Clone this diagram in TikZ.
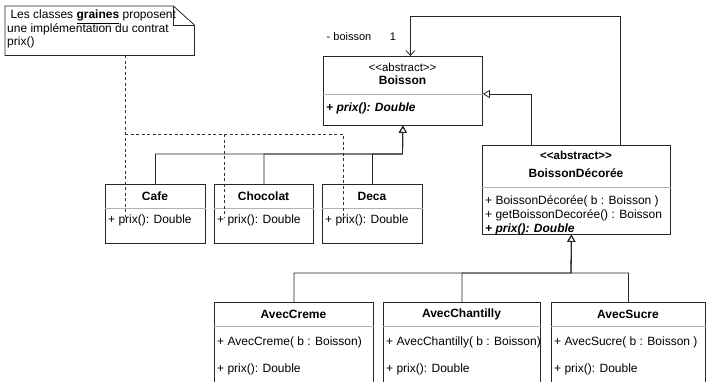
\documentclass[tikz,border=0pt]{standalone}
\usepackage{fontspec}
\setmainfont{Liberation Sans}
\usetikzlibrary{arrows.meta}
\begin{document}
\begin{tikzpicture}[x=1pt,y=-1pt,
  umlbox/.style={draw=black!85, line width=0.8pt, fill=white, inner sep=0pt, anchor=north west},
  divider/.style={draw=black!30, line width=0.8pt},
  txt/.style={inner sep=0pt, font=\fontsize{12}{14}\selectfont},
  ttl/.style={inner sep=0pt, font=\fontsize{12}{14}\selectfont\bfseries},
  meth/.style={txt, anchor=west},
  small/.style={inner sep=0pt, font=\fontsize{11}{13}\selectfont},
  gen/.style={draw=black!85, line width=0.8pt, -{Triangle[open,length=7pt,width=8pt]}},
  assoc/.style={draw=black!85, line width=0.8pt, -{Straight Barb[length=5pt,width=9pt]}},
  notelink/.style={draw=black!80, line width=0.8pt, dash pattern=on 3pt off 2.5pt}
]
\useasboundingbox (0,0) rectangle (706,381);
\fill[white] (0,0) rectangle (706,381);

% Note
\node[inner sep=0pt, minimum width=189pt, minimum height=49pt, anchor=north west] (note) at (5,6) {};
\draw[draw=black!85, line width=0.8pt, fill=white]
  (note.north west) -- ([xshift=-21pt]note.north east) -- ([yshift=-19pt]note.north east)
  -- (note.south east) -- (note.south west) -- cycle;
\draw[draw=black!85, line width=0.8pt]
  ([xshift=-21pt]note.north east) -- ([xshift=-21pt,yshift=-19pt]note.north east) -- ([yshift=-19pt]note.north east);
\node[txt, anchor=north west, align=left, font=\fontsize{12}{13.5}\selectfont] (notetext) at (7,10)
  {\ Les classes \textbf{\underline{graines}} proposent\\une implémentation du contrat\\prix()};

% Boxes
\node[umlbox, minimum width=159pt, minimum height=69pt] (boisson) at (323,56) {};
\draw[divider] ([yshift=-38pt]boisson.north west) -- ([yshift=-38pt]boisson.north east);
\node[umlbox, minimum width=188pt, minimum height=89pt] (bd) at (482,145) {};
\draw[divider] ([yshift=-42pt]bd.north west) -- ([yshift=-42pt]bd.north east);
\node[umlbox, minimum width=100pt, minimum height=59pt] (cafe) at (105,184) {};
\draw[divider] ([yshift=-24pt]cafe.north west) -- ([yshift=-24pt]cafe.north east);
\node[umlbox, minimum width=99pt, minimum height=59pt] (choco) at (214,184) {};
\draw[divider] ([yshift=-24pt]choco.north west) -- ([yshift=-24pt]choco.north east);
\node[umlbox, minimum width=100pt, minimum height=59pt] (deca) at (322,184) {};
\draw[divider] ([yshift=-24pt]deca.north west) -- ([yshift=-24pt]deca.north east);
\node[umlbox, minimum width=159pt, minimum height=95pt] (creme) at (214,302) {};
\draw[divider] ([yshift=-24pt]creme.north west) -- ([yshift=-24pt]creme.north east);
\node[umlbox, minimum width=157pt, minimum height=95pt] (chant) at (383,302) {};
\draw[divider] ([yshift=-24pt]chant.north west) -- ([yshift=-24pt]chant.north east);
\node[umlbox, minimum width=154pt, minimum height=95pt] (sucre) at (551,302) {};
\draw[divider] ([yshift=-24pt]sucre.north west) -- ([yshift=-24pt]sucre.north east);

% Generalisations
\coordinate (j1) at (402.5,154);
\draw[gen] (cafe.north) |- (j1) -- (boisson.south);
\draw[gen] (choco.north) |- (j1) -- (boisson.south);
\draw[gen] (deca.north) |- (j1) -- (boisson.south);
\draw[gen] ([xshift=-45pt]bd.north) |- ([yshift=-38pt]boisson.north east);
\coordinate (j2) at (571,273);
\draw[gen] (creme.north) |- (j2) -- ([xshift=-5pt]bd.south);
\draw[gen] (chant.north) |- (j2) -- ([xshift=-5pt]bd.south);
\draw[gen] (sucre.north) |- (j2) -- ([xshift=-5pt]bd.south);

% Association
\coordinate (top) at (620,16);
\draw[assoc] (bd.north -| top) -- (top) -| ([xshift=7.5pt]boisson.north);
\node[small] (rolelbl) at (349,37) {- boisson};
\node[small] (multlbl) at (393,37) {1};

% Note links
\coordinate (nb) at (125,55);
\coordinate (k) at (125,134);
\coordinate (e1) at (125,217);
\coordinate (e2) at (224,217);
\coordinate (e3) at (343,217);
\draw[notelink] (nb) -- (e1);
\draw[notelink] (k) -| (e2);
\draw[notelink] (k) -| (e3);

% Texts
\node[txt, font=\fontsize{11.5}{14}\selectfont] (bst) at (402.5,67) {<{}<abstract>{}>};
\node[ttl] (bname) at (402.5,80) {Boisson};
\node[meth, font=\fontsize{12}{14}\selectfont\bfseries\itshape] (bprix) at (326,108) {+ prix(): Double};

\node[ttl, font=\fontsize{11.5}{14}\selectfont\bfseries] (bdst) at (576,155) {<{}<abstract>{}>};
\node[ttl] (bdname) at (576,173) {BoissonDécorée};
\node[meth] (bdm1) at (485,201) {+ BoissonDécorée( b : Boisson )};
\node[meth] (bdm2) at (485,215) {+ getBoissonDecorée() : Boisson};
\node[meth, font=\fontsize{12}{14}\selectfont\bfseries\itshape] (bdm3) at (485,229) {+ prix(): Double};

\node[ttl] (cafet) at (155,196) {Cafe};
\node[meth] (cafem) at (108,220) {+ prix(): Double};
\node[ttl] (chocot) at (263.5,196) {Chocolat};
\node[meth] (chocom) at (217,220) {+ prix(): Double};
\node[ttl] (decat) at (372,196) {Deca};
\node[meth] (decam) at (325,220) {+ prix(): Double};

\node[ttl] (cremet) at (293.5,314) {AvecCreme};
\node[meth] (cremem1) at (217,342) {+ AvecCreme( b : Boisson)};
\node[meth] (cremem2) at (217,369) {+ prix(): Double};
\node[ttl] (chantt) at (461.5,314) {AvecChantilly};
\node[meth] (chantm1) at (386,342) {+ AvecChantilly( b : Boisson)};
\node[meth] (chantm2) at (386,369) {+ prix(): Double};
\node[ttl] (sucret) at (628,314) {AvecSucre};
\node[meth] (sucrem1) at (554,342) {+ AvecSucre( b : Boisson )};
\node[meth] (sucrem2) at (554,369) {+ prix(): Double};
\end{tikzpicture}
\end{document}
